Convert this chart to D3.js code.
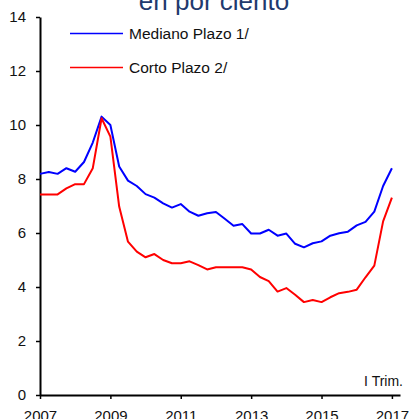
<!DOCTYPE html>
<html>
<head>
<meta charset="utf-8">
<script src="https://cdn.jsdelivr.net/npm/d3@7/dist/d3.min.js"></script>
<style>
  html, body { margin: 0; padding: 0; background: #fff; }
  svg { display: block; font-family: "Liberation Sans", Arial, sans-serif; }
</style>
</head>
<body>
<svg id="chart" width="412" height="419"></svg>
<script>
// Quarterly series, 2007 Q1 through 2017 Q1 (percent)
const startYear = 2007;
const medianoPlazo = [8.19, 8.26, 8.19, 8.40, 8.27, 8.63, 9.35, 10.31, 10.0, 8.46,
  7.94, 7.74, 7.44, 7.31, 7.10, 6.94, 7.07, 6.79, 6.64, 6.73,
  6.78, 6.53, 6.27, 6.33, 5.98, 5.98, 6.12, 5.90, 5.98, 5.60,
  5.47, 5.62, 5.69, 5.90, 5.99, 6.05, 6.28, 6.41, 6.79, 7.74, 8.40];
const cortoPlazo = [7.43, 7.43, 7.43, 7.65, 7.81, 7.81, 8.40, 10.25, 9.57, 6.98,
  5.68, 5.31, 5.10, 5.22, 5.00, 4.88, 4.88, 4.95, 4.81, 4.65,
  4.73, 4.73, 4.73, 4.73, 4.65, 4.37, 4.22, 3.83, 3.96, 3.71,
  3.44, 3.52, 3.44, 3.62, 3.77, 3.82, 3.90, 4.36, 4.79, 6.43, 7.31];
const xTicks = [2007, 2009, 2011, 2013, 2015, 2017];
const yTicks = [0, 2, 4, 6, 8, 10, 12, 14];
const seriesNames = ["Mediano Plazo 1/", "Corto Plazo 2/"];
const seriesColors = ["#0000ff", "#ff0000"];
const titleText = "en por ciento";
const periodNote = "I Trim.";

const svg = d3.select("#chart");

const x = d3.scaleLinear().domain([2007, 2017.23]).range([40, 400]);
const y = d3.scaleLinear().domain([0, 14]).range([395, 17]);

// title (partly above the top edge)
svg.append("text")
  .attr("x", 214).attr("y", 10)
  .attr("text-anchor", "middle")
  .attr("font-size", 26)
  .attr("fill", "#1f3a6e")
  .text(titleText);

// y axis
const yAxis = svg.append("g")
  .attr("transform", "translate(40,0)")
  .call(d3.axisLeft(y).tickValues(yTicks).tickFormat(d3.format("d"))
    .tickSize(4).tickSizeOuter(0).tickPadding(10));

// x axis
const xAxis = svg.append("g")
  .attr("transform", "translate(0,395)")
  .call(d3.axisBottom(x).tickValues(xTicks).tickFormat(d3.format("d"))
    .tickSize(4).tickSizeOuter(0).tickPadding(11));

[yAxis, xAxis].forEach(g => {
  g.select(".domain").attr("stroke", "#000").attr("stroke-width", 2);
  g.selectAll(".tick line").attr("stroke", "#000").attr("stroke-width", 1.5);
  g.selectAll(".tick text").attr("fill", "#111").attr("font-size", 15)
    .attr("font-family", "'Liberation Sans', Arial, sans-serif");
});

// lines
const line = d3.line()
  .x((d, i) => x(startYear + i / 4))
  .y(d => y(d));

[medianoPlazo, cortoPlazo].forEach((s, k) => {
  svg.append("path")
    .datum(s)
    .attr("fill", "none")
    .attr("stroke", seriesColors[k])
    .attr("stroke-width", 2)
    .attr("stroke-linejoin", "round")
    .attr("d", line);
});

// legend
const legendY = [33.5, 67.5];
seriesNames.forEach((name, k) => {
  svg.append("line")
    .attr("x1", 70).attr("x2", 123)
    .attr("y1", legendY[k]).attr("y2", legendY[k])
    .attr("stroke", seriesColors[k]).attr("stroke-width", 1.5);
  svg.append("text")
    .attr("x", 129).attr("y", legendY[k] + 5)
    .attr("font-size", 15.5)
    .attr("fill", "#111")
    .text(name);
});

// period note
svg.append("text")
  .attr("x", 403).attr("y", 386)
  .attr("text-anchor", "end")
  .attr("font-size", 14)
  .attr("fill", "#111")
  .text(periodNote);
</script>
</body>
</html>
